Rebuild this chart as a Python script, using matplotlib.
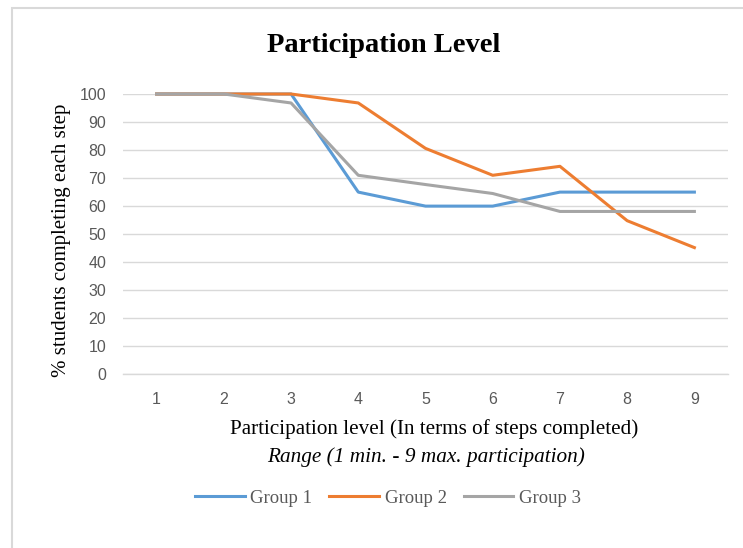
import matplotlib
matplotlib.use("Agg")
import matplotlib.pyplot as plt
from matplotlib.patches import Rectangle

# data
steps = [1, 2, 3, 4, 5, 6, 7, 8, 9]
group1 = [100, 100, 100, 65, 60, 60, 65, 65, 65]
group2 = [100, 100, 100, 96.8, 80.6, 71.0, 74.2, 54.8, 45.2]
group3 = [100, 100, 96.8, 71.0, 67.7, 64.5, 58.1, 58.1, 58.1]
series_names = ["Group 1", "Group 2", "Group 3"]
y_ticks = [0, 10, 20, 30, 40, 50, 60, 70, 80, 90, 100]

colors = ["#5B9BD5", "#ED7D31", "#A5A5A5"]
grid_col = "#D9D9D9"
text_gray = "#595959"
W, H = 743, 548

fig = plt.figure(figsize=(W / 100, H / 100), dpi=100)
ax = fig.add_axes([123 / W, 1 - 374.3 / H, (728 - 123) / W, (374.3 - 94) / H])

for vals, name, c in zip([group1, group2, group3], series_names, colors):
    ax.plot(steps, vals, color=c, lw=2.2, label=name, clip_on=False,
            solid_joinstyle="round")

ax.set_xlim(0.5, 9.5)
ax.set_ylim(0, 100)
ax.set_yticks(y_ticks)
ax.set_xticks(steps)
ax.yaxis.grid(True, color=grid_col, lw=1.0)
ax.set_axisbelow(True)
for s in ["top", "right", "left"]:
    ax.spines[s].set_visible(False)
ax.spines["bottom"].set_color(grid_col)
ax.spines["bottom"].set_linewidth(1.0)
ax.tick_params(length=0, labelsize=11.5, labelcolor=text_gray)
ax.tick_params(axis="y", pad=12)
ax.tick_params(axis="x", pad=13)
for lab in ax.get_xticklabels() + ax.get_yticklabels():
    lab.set_fontfamily("Liberation Sans")

serif = "Liberation Serif"
fig.text(384 / W, 1 - 45 / H, "Participation Level", ha="center", va="center",
         fontsize=20.5, fontweight="bold", family=serif)
fig.text(62 / W, 1 - 240 / H, "% students completing each step", rotation=90,
         ha="center", va="center", fontsize=15, family=serif)
fig.text(434 / W, 1 - 429 / H, "Participation level (In terms of steps completed)",
         ha="center", va="center", fontsize=15.2, family=serif)
fig.text(426 / W, 1 - 457 / H, "Range (1 min. - 9 max. participation)",
         ha="center", va="center", fontsize=15.3, style="italic", family=serif)

leg = fig.legend(loc="center", bbox_to_anchor=(388 / W, 1 - 498 / H), ncol=3,
                 frameon=False, handlelength=2.65, handletextpad=0.3,
                 columnspacing=0.9, prop={"family": serif, "size": 13.5})
for t in leg.get_texts():
    t.set_color(text_gray)

# light chart-area border (clipped at right and bottom like the source)
fig.patches.append(Rectangle((12 / W, -0.1), 1.2, 1.1 - 8 / H, transform=fig.transFigure,
                             fill=False, edgecolor=grid_col, lw=1.5))

fig.savefig("out.png", dpi=100)
